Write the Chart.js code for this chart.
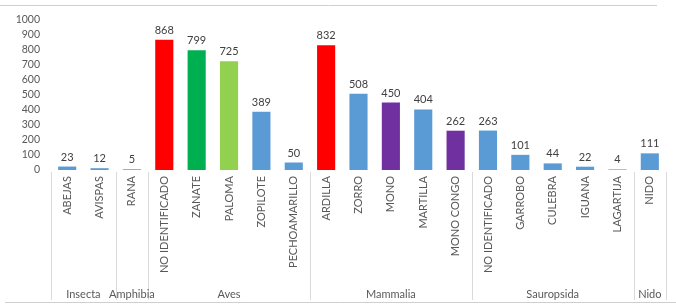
<!DOCTYPE html>
<html>
<head>
<meta charset="utf-8">
<script src="https://cdn.jsdelivr.net/npm/chart.js@4/dist/chart.umd.min.js"></script>
<style>
  html, body { margin: 0; padding: 0; background: #fff; }
  #wrap { width: 676px; height: 308px; position: relative; }
</style>
</head>
<body>
<div id="wrap"><canvas id="fauna" width="676" height="308"></canvas></div>
<script>
// categories, values and groups
const especies = ['ABEJAS', 'AVISPAS', 'RANA', 'NO IDENTIFICADO', 'ZANATE', 'PALOMA', 'ZOPILOTE',
  'PECHOAMARILLO', 'ARDILLA', 'ZORRO', 'MONO', 'MARTILLA', 'MONO CONGO', 'NO IDENTIFICADO',
  'GARROBO', 'CULEBRA', 'IGUANA', 'LAGARTIJA', 'NIDO'];
const registros = [23, 12, 5, 868, 799, 725, 389, 50, 832, 508, 450, 404, 262, 263, 101, 44, 22, 4, 111];
const grupos = ['Insecta', 'Amphibia', 'Aves', 'Mammalia', 'Sauropsida', 'Nido'];
const grupoTamano = [2, 1, 5, 5, 5, 1];
const yTicks = [0, 100, 200, 300, 400, 500, 600, 700, 800, 900, 1000];

const AZUL = '#5b9bd5', ROJO = '#ff0000', VERDE = '#00b050', VERDE2 = '#92d050', MORADO = '#7030a0';
const colores = [AZUL, AZUL, AZUL, ROJO, VERDE, VERDE2, AZUL, AZUL, ROJO, AZUL, MORADO, AZUL, MORADO,
  AZUL, AZUL, AZUL, AZUL, AZUL, AZUL];

const fuente = 'Lato, "Open Sans", sans-serif';
const gris = '#595959';

// value labels above bars
const etiquetas = {
  id: 'etiquetas',
  afterDatasetsDraw(chart) {
    const ctx = chart.ctx;
    const meta = chart.getDatasetMeta(0);
    ctx.save();
    ctx.font = '11px ' + fuente;
    ctx.fillStyle = '#404040';
    ctx.textAlign = 'center';
    ctx.textBaseline = 'bottom';
    meta.data.forEach((bar, i) => {
      ctx.fillText(registros[i], bar.x, bar.y - 4);
    });
    ctx.restore();
  }
};

// group row under category labels, with separators
const gruposPlugin = {
  id: 'grupos',
  afterDraw(chart) {
    const ctx = chart.ctx;
    const x = chart.scales.x;
    const top = chart.chartArea.bottom + 2;
    const bottom = 300;
    const half = (x.getPixelForValue(1) - x.getPixelForValue(0)) / 2;
    ctx.save();
    ctx.strokeStyle = '#d9d9d9';
    ctx.lineWidth = 1;
    let start = 0;
    const edge = px => Math.round(px) + 0.5;
    ctx.beginPath();
    ctx.moveTo(edge(x.getPixelForValue(0) - half), top);
    ctx.lineTo(edge(x.getPixelForValue(0) - half), bottom);
    ctx.stroke();
    ctx.font = '11px ' + fuente;
    ctx.fillStyle = gris;
    ctx.textAlign = 'center';
    ctx.textBaseline = 'middle';
    grupos.forEach((g, k) => {
      const end = start + grupoTamano[k] - 1;
      const right = x.getPixelForValue(end) + half;
      ctx.beginPath();
      ctx.moveTo(edge(right), top);
      ctx.lineTo(edge(right), bottom);
      ctx.stroke();
      const mid = (x.getPixelForValue(start) + x.getPixelForValue(end)) / 2;
      ctx.fillText(g, mid, 294);
      start = end + 1;
    });
    // frame lines of the picture
    ctx.strokeStyle = '#cfcfcf';
    ctx.beginPath();
    ctx.moveTo(0, 5.5); ctx.lineTo(657, 5.5);
    ctx.moveTo(5, 302.5); ctx.lineTo(676, 302.5);
    ctx.stroke();
    ctx.restore();
  }
};

new Chart(document.getElementById('fauna'), {
  type: 'bar',
  data: {
    labels: especies,
    datasets: [{
      data: registros,
      backgroundColor: colores,
      borderWidth: 0,
      categoryPercentage: 1,
      barPercentage: 0.56
    }]
  },
  options: {
    responsive: false,
    animation: false,
    layout: { padding: { top: 20, right: 10, bottom: 6, left: 0 } },
    plugins: {
      legend: { display: false },
      tooltip: { enabled: false }
    },
    scales: {
      y: {
        min: 0,
        max: 1000,
        afterFit(scale) { scale.width = 51; },
        afterBuildTicks(scale) { scale.ticks = yTicks.map(v => ({ value: v })); },
        grid: { display: false, drawTicks: false },
        border: { display: false },
        ticks: {
          color: gris,
          font: { family: fuente, size: 10.5 },
          padding: 11,
          autoSkip: false,
          callback: v => String(v)
        }
      },
      x: {
        afterFit(scale) { scale.height = 132; },
        grid: { display: false, drawTicks: false },
        border: { display: false },
        ticks: {
          color: gris,
          font: { family: fuente, size: 11 },
          minRotation: 90,
          maxRotation: 90,
          autoSkip: false,
          padding: 6
        }
      }
    }
  },
  plugins: [etiquetas, gruposPlugin]
});
</script>
</body>
</html>
